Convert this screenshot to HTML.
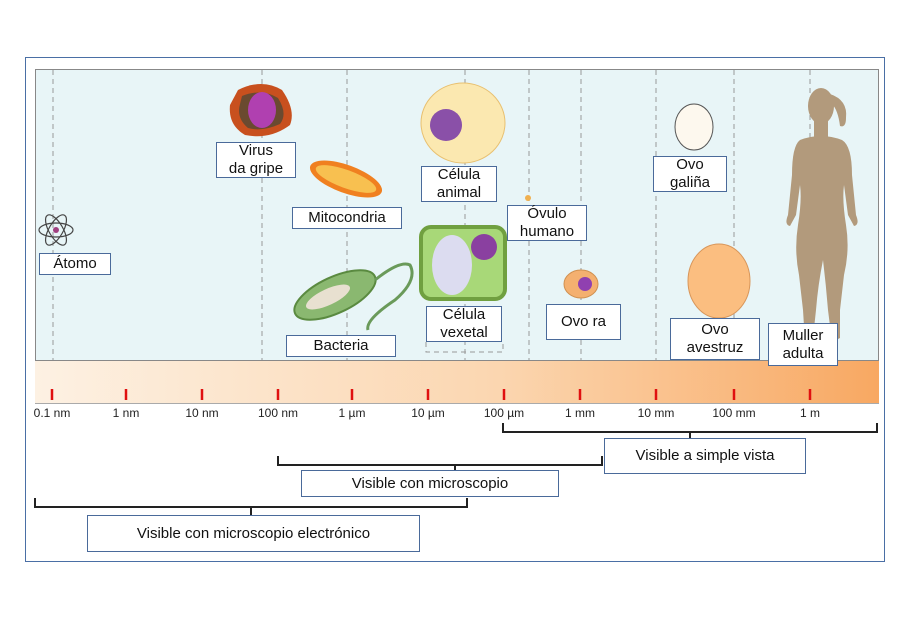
<!DOCTYPE html>
<html><head><meta charset="utf-8"><style>
body{margin:0;background:#fff;width:900px;height:636px;position:relative;overflow:hidden;font-family:"Liberation Sans",sans-serif}
.a{position:absolute}
.box{position:absolute;background:#fff;border:1px solid #4a6a9a;box-sizing:border-box;text-align:center;color:#111;font-size:15px;line-height:18px;display:flex;align-items:center;justify-content:center}
.tl{position:absolute;top:406px;font-size:12px;color:#222;width:60px;text-align:center}
</style></head><body>
<div class="a" style="left:25px;top:57px;width:860px;height:505px;border:1.5px solid #4a6fa5;box-sizing:border-box"></div>
<div class="a" style="left:35px;top:69px;width:844px;height:292px;background:#e8f5f7;border:1px solid #888;box-sizing:border-box"></div>
<div class="a" style="left:35px;top:361px;width:844px;height:42px;background:linear-gradient(90deg,#fdf1e3,#fbd6b0 55%,#f8a862);border-bottom:1px solid #aaa"></div>
<svg class="a" style="left:0;top:0" width="900" height="636">
<g stroke="#999" stroke-dasharray="5,4" stroke-width="1">
<line x1="53" y1="70" x2="53" y2="360"/><line x1="262" y1="70" x2="262" y2="360"/><line x1="347" y1="70" x2="347" y2="360"/><line x1="465" y1="70" x2="465" y2="360"/><line x1="529" y1="70" x2="529" y2="360"/><line x1="581" y1="70" x2="581" y2="360"/><line x1="656" y1="70" x2="656" y2="360"/><line x1="734" y1="70" x2="734" y2="360"/><line x1="810" y1="70" x2="810" y2="360"/>
<polyline points="426,342 426,352 503,352 503,342" fill="none"/>
</g>
<g stroke="#e01010" stroke-width="2.5">
<line x1="52" y1="389" x2="52" y2="400"/><line x1="126" y1="389" x2="126" y2="400"/><line x1="202" y1="389" x2="202" y2="400"/><line x1="278" y1="389" x2="278" y2="400"/><line x1="352" y1="389" x2="352" y2="400"/><line x1="428" y1="389" x2="428" y2="400"/><line x1="504" y1="389" x2="504" y2="400"/><line x1="580" y1="389" x2="580" y2="400"/><line x1="656" y1="389" x2="656" y2="400"/><line x1="734" y1="389" x2="734" y2="400"/><line x1="810" y1="389" x2="810" y2="400"/>
</g>
<g stroke="#222" stroke-width="2" fill="none">
<polyline points="503,423 503,432 877,432 877,423"/><line x1="690" y1="432" x2="690" y2="439"/>
<polyline points="278,456 278,465 602,465 602,456"/><line x1="455" y1="465" x2="455" y2="471"/>
<polyline points="35,498 35,507 467,507 467,498"/><line x1="251" y1="507" x2="251" y2="516"/>
</g>
<g transform="translate(56,230)" stroke="#444" fill="none" stroke-width="1.2"><ellipse rx="17" ry="7"/><ellipse rx="17" ry="7" transform="rotate(60)"/><ellipse rx="17" ry="7" transform="rotate(-60)"/><circle r="3" fill="#a04080" stroke="none"/></g>
<path d="M238,90 Q262,78 282,90 Q296,110 290,125 Q270,140 245,135 Q228,125 230,105Z" fill="#c8501e"/><path d="M242,96 Q262,88 278,98 Q288,114 280,124 Q262,132 248,128 Q236,118 240,104Z" fill="#6a4a30"/><ellipse cx="262" cy="110" rx="14" ry="18" fill="#b040b0"/>
<ellipse cx="346" cy="179" rx="38" ry="14" transform="rotate(20 346 179)" fill="#f08020"/><ellipse cx="346" cy="179" rx="32" ry="9" transform="rotate(20 346 179)" fill="#f8c050"/>
<ellipse cx="335" cy="295" rx="44" ry="18" transform="rotate(-25 335 295)" fill="#8ab870" stroke="#5a8a40" stroke-width="2"/><ellipse cx="328" cy="297" rx="24" ry="8" transform="rotate(-25 328 297)" fill="#e8e0d0"/>
<path d="M375,280 Q400,260 410,265 Q418,280 395,300 Q365,320 368,330" fill="none" stroke="#6a9a5a" stroke-width="3"/>
<ellipse cx="463" cy="123" rx="42" ry="40" fill="#fbe8b0" stroke="#e8c070"/><circle cx="446" cy="125" r="16" fill="#8a50a8"/>
<rect x="421" y="227" width="84" height="72" rx="10" fill="#a8d878" stroke="#70a040" stroke-width="4"/><ellipse cx="452" cy="265" rx="20" ry="30" fill="#dcdcf0"/><circle cx="484" cy="247" r="13" fill="#8a40a0"/>
<circle cx="528" cy="198" r="3" fill="#f0b050"/>
<ellipse cx="581" cy="284" rx="17" ry="14" fill="#f4b070" stroke="#d09050"/><circle cx="585" cy="284" r="7" fill="#9040b0"/>
<ellipse cx="694" cy="127" rx="19" ry="23" fill="#fdf8ee" stroke="#555"/>
<ellipse cx="719" cy="281" rx="31" ry="37" fill="#fbbe80" stroke="#d8965a"/>
<g fill="#b29a7c">
<ellipse cx="821" cy="106" rx="13" ry="18"/>
<path d="M830,94 Q848,100 846,118 Q846,128 840,126 Q838,110 832,104Z"/>
<rect x="814" y="118" width="14" height="20"/>
<path d="M800,140 Q821,132 842,140 Q852,146 852,175 L856,215 Q860,225 854,226 L848,215 L844,185 Q842,200 846,225 Q850,250 844,275 L840,310 L840,338 L832,342 L828,310 Q826,285 823,260 Q818,285 816,310 L813,338 L805,342 L803,310 L799,275 Q794,250 798,225 Q802,200 800,185 L796,215 L790,226 Q784,225 788,215 L792,175 Q792,146 800,140Z"/>
</g>
</svg>
<div class="box" style="left:39px;top:253px;width:72px;height:22px">Átomo</div>
<div class="box" style="left:216px;top:142px;width:80px;height:36px">Virus<br>da gripe</div>
<div class="box" style="left:292px;top:207px;width:110px;height:22px">Mitocondria</div>
<div class="box" style="left:286px;top:335px;width:110px;height:22px">Bacteria</div>
<div class="box" style="left:421px;top:166px;width:76px;height:36px">Célula<br>animal</div>
<div class="box" style="left:426px;top:306px;width:76px;height:36px">Célula<br>vexetal</div>
<div class="box" style="left:507px;top:205px;width:80px;height:36px">Óvulo<br>humano</div>
<div class="box" style="left:546px;top:304px;width:75px;height:36px">Ovo ra</div>
<div class="box" style="left:653px;top:156px;width:74px;height:36px">Ovo<br>galiña</div>
<div class="box" style="left:670px;top:318px;width:90px;height:42px">Ovo<br>avestruz</div>
<div class="box" style="left:768px;top:323px;width:70px;height:43px">Muller<br>adulta</div>
<div class="tl" style="left:22px">0.1 nm</div>
<div class="tl" style="left:96px">1 nm</div>
<div class="tl" style="left:172px">10 nm</div>
<div class="tl" style="left:248px">100 nm</div>
<div class="tl" style="left:322px">1 µm</div>
<div class="tl" style="left:398px">10 µm</div>
<div class="tl" style="left:474px">100 µm</div>
<div class="tl" style="left:550px">1 mm</div>
<div class="tl" style="left:626px">10 mm</div>
<div class="tl" style="left:704px">100 mm</div>
<div class="tl" style="left:780px">1 m</div>
<div class="box" style="left:604px;top:438px;width:202px;height:36px">Visible a simple vista</div>
<div class="box" style="left:301px;top:470px;width:258px;height:27px">Visible con microscopio</div>
<div class="box" style="left:87px;top:515px;width:333px;height:37px">Visible con microscopio electrónico</div>
</body></html>
